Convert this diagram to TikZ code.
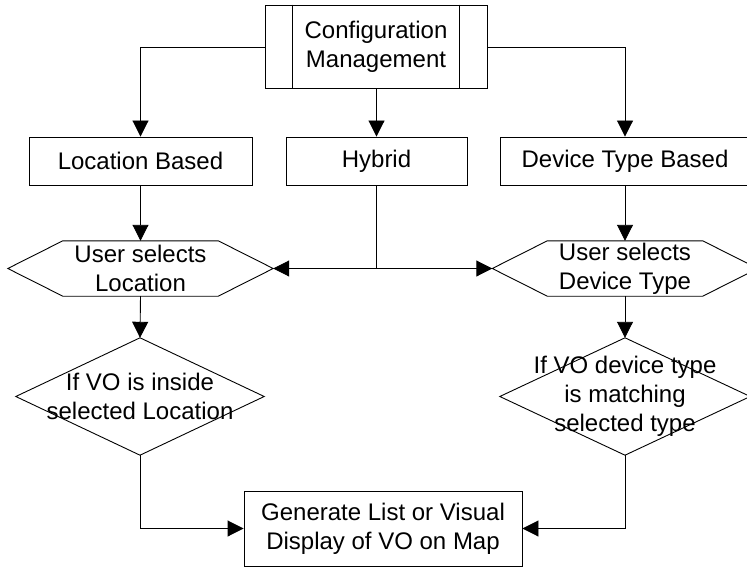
\documentclass[tikz,border=0pt]{standalone}
\usepackage{fontspec}
\setmainfont{Liberation Sans}
\usetikzlibrary{arrows.meta,calc}

\tikzset{
  txt/.style={font={\fontsize{24pt}{29pt}\selectfont}, align=center, inner sep=0pt},
  boxnode/.style={txt, draw, line width=0.9pt, minimum height=48pt},
  shapenode/.style={txt, minimum width=#1},
  link/.style={line width=0.9pt},
  arr/.style={link, -{Triangle[length=16pt,width=16pt]}},
}

\begin{document}
\begin{tikzpicture}[x=1pt,y=1pt]
\useasboundingbox (0,0) rectangle (747,-567);
\clip (0,0) rectangle (747,-567);

% predefined process at the top
\node[boxnode, minimum width=222pt, minimum height=83pt] (conf) at (376,-46.5)
  {Configuration\\Management};
\draw[line width=0.9pt] ($(conf.north west)+(28,0)$) -- ($(conf.south west)+(28,0)$);
\draw[line width=0.9pt] ($(conf.north east)+(-28,0)$) -- ($(conf.south east)+(-28,0)$);

% three configuration modes
\node[boxnode, minimum width=223pt] (loc) at (140.5,-161) {Location Based};
\node[boxnode, minimum width=181pt] (hyb) at (376.5,-161) {Hybrid};
\node[boxnode, minimum width=250pt] (dev) at (625,-161) {Device Type Based};

% selection steps (hexagons)
\node[shapenode=265pt, minimum height=55pt] (hexL) at (140.5,-268.5) {User selects\\Location};
\node[shapenode=265pt, minimum height=55pt] (hexR) at (625,-268.5) {User selects\\Device Type};
\foreach \h in {hexL,hexR}{
  \draw[line width=0.9pt] (\h.west) -- ($(\h.north west)+(55,0)$) -- ($(\h.north east)+(-55,0)$)
    -- (\h.east) -- ($(\h.south east)+(-55,0)$) -- ($(\h.south west)+(55,0)$) -- cycle;
}

% decisions (diamonds)
\node[shapenode=248pt, minimum height=117pt] (decL) at (140,-396.5) {If VO is inside\\selected Location};
\node[shapenode=250pt, minimum height=117pt] (decR) at (625,-396.5) {If VO device type\\is matching\\selected type};
\foreach \d in {decL,decR}{
  \draw[line width=0.9pt] (\d.north) -- (\d.east) -- (\d.south) -- (\d.west) -- cycle;
}

% result
\node[boxnode, minimum width=278pt, minimum height=75pt] (out) at (383,-528.5)
  {Generate List or Visual\\Display of VO on Map};

% connectors
\draw[arr] (conf.west |- 0,-47) -| (loc.north);
\draw[arr] (conf.east |- 0,-47) -| (dev.north);
\draw[arr] (conf.south -| hyb.north) -- (hyb.north);

\draw[arr] (loc.south) -- (hexL.north);
\draw[arr] (dev.south) -- (hexR.north);
\draw[link] (hyb.south) -- (hyb.south |- hexL.east) coordinate (jn);
\draw[arr] (jn) -- (hexL.east);
\draw[arr] (jn) -- (hexR.west);

\draw[arr] (hexL.south) -- (decL.north);
\draw[arr] (hexR.south) -- (decR.north);

\draw[arr] (decL.south) |- (out.west);
\draw[arr] (decR.south) |- (out.east);
\end{tikzpicture}
\end{document}
